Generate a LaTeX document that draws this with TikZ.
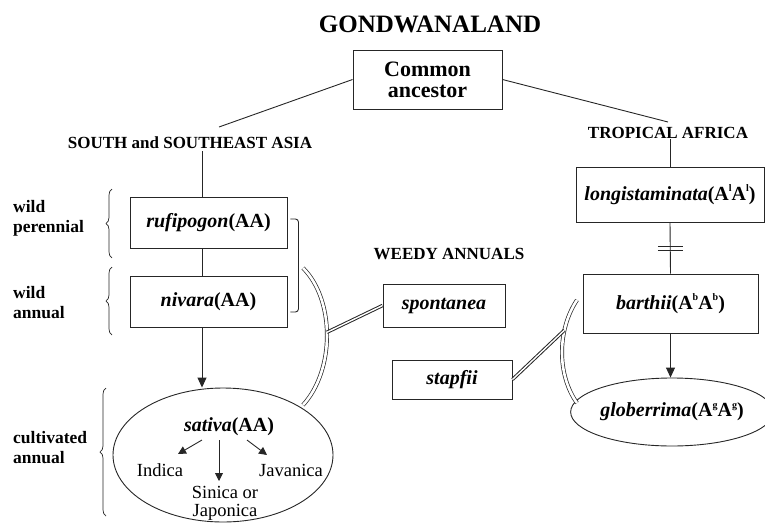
\documentclass[tikz,border=0pt]{standalone}
\usepackage{fontspec}
\setmainfont{Liberation Serif}
\usetikzlibrary{arrows.meta,shapes.geometric,decorations.pathreplacing,calc}
\newcommand{\supl}[1]{\raisebox{0.42em}{\fontsize{10}{10}\selectfont #1}}
\begin{document}
\begin{tikzpicture}[x=1pt,y=-1pt,
  ln/.style={draw=black!85,line width=0.9pt},
  box/.style={draw=black!85,line width=0.9pt,inner sep=0pt,font=\fontsize{20}{22}\selectfont\bfseries},
  head/.style={inner sep=0pt,font=\fontsize{17}{19}\selectfont\bfseries},
  lab/.style={inner sep=0pt,anchor=west,align=left,font=\fontsize{17.5}{20}\selectfont\bfseries},
  reg/.style={inner sep=0pt,align=center,font=\fontsize{18.5}{18}\selectfont},
  arr/.style={ln,-{Triangle[length=10pt,width=9pt]}},
  sarr/.style={ln,-{Triangle[length=8pt,width=8pt]}},
  bracestyle/.style={draw=black!85,line width=0.7pt,decorate,decoration={brace,amplitude=6pt}},
  dblthin/.style={draw=black!85,line width=0.7pt,double=white,double distance=2.6pt},
  dblthick/.style={draw=black!85,line width=1pt,double=white,double distance=1.4pt}
]
\useasboundingbox (0,0) rectangle (765,522);

% headings
\node[inner sep=0pt,font=\fontsize{25}{27}\selectfont\bfseries] (title) at (430,24) {GONDWANALAND};
\node[box,align=center,minimum width=149pt,minimum height=59pt,font=\fontsize{22}{21}\selectfont\bfseries] (ca) at (427.5,79.5) {Common\\ancestor};
\node[head] (sea) at (190,143) {SOUTH and SOUTHEAST ASIA};
\node[head] (ta) at (668,133) {TROPICAL AFRICA};
\node[head] (wa) at (449,254) {WEEDY ANNUALS};

\coordinate (sl) at (219,127);
\coordinate (sr) at (668,122);
\draw[ln] (ca.west) -- (sl);
\draw[ln] (ca.east) -- (sr);

% left column
\coordinate (sa) at (202,151);
\node[box,minimum width=157pt,minimum height=51pt] (rufi) at (208.5,222.5) {\textit{rufipogon}(AA)};
\node[box,minimum width=157pt,minimum height=51pt] (niv) at (208.5,301.5) {\textit{nivara}(AA)};
\node[draw=black!85,line width=0.9pt,ellipse,inner sep=0pt,minimum width=220pt,minimum height=134pt] (sat) at (223,455) {};
\draw[ln] (sa) -- (sa |- rufi.north);
\draw[ln] (sa |- rufi.south) -- (sa |- niv.north);
\draw[arr] (sa |- niv.south) -- (sa |- sat.north);
\draw[ln,rounded corners=3pt] ($(rufi.east)+(3,-3.5)$) -- ++(8,0) |- ($(niv.east)+(3,10.5)$);

\node[inner sep=0pt,font=\fontsize{20}{22}\selectfont\bfseries] (sattext) at (229,427) {\textit{sativa}(AA)};
\node[reg] (indica) at (160,470) {Indica};
\node[reg] (javanica) at (291,470) {Javanica};
\node[reg] (sinica) at (225,503) {Sinica or\\Japonica};
\coordinate (s1) at (202,440); \coordinate (e1) at (178,454);
\coordinate (s2) at (219,440); \coordinate (e2) at (219,481);
\coordinate (s3) at (247,440); \coordinate (e3) at (267,455);
\draw[sarr] (s1) -- (e1);
\draw[sarr] (s2) -- (e2);
\draw[sarr] (s3) -- (e3);

% left labels and braces
\node[lab] (wp) at (13,218) {wild\\perennial};
\node[lab] (wan) at (13,303) {wild\\annual};
\node[lab] (cul) at (13,448) {cultivated\\annual};
\draw[bracestyle] (112,258) -- (112,189);
\draw[bracestyle] (112,335) -- (112,267);
\draw[bracestyle] (106,516) -- (106,388);

% right column
\node[box,minimum width=188pt,minimum height=55pt] (longi) at (670,194.5) {\textit{longistaminata}(A\supl{l}A\supl{l})};
\node[box,minimum width=175pt,minimum height=59pt] (barthii) at (670.5,303.5) {\textit{barthii}(A\supl{b}A\supl{b})};
\node[draw=black!85,line width=0.9pt,ellipse,inner sep=0pt,minimum width=186pt,minimum height=68pt,font=\fontsize{20}{22}\selectfont\bfseries] (glob) at (672,412) {\textit{globerrima}(A\supl{g}A\supl{g})};
\draw[ln] (ta.south -| longi.north) -- (longi.north);
\draw[ln] (longi.south) -- (barthii.south |- barthii.north);
\coordinate (bm) at ($(longi.south)!0.5!(barthii.north)$);
\draw[ln] ($(bm)+(-12.5,-2)$) -- ++(25,0);
\draw[ln] ($(bm)+(-12.5,2)$) -- ++(25,0);
\draw[arr] (barthii.south) -- (barthii.south |- glob.north);

% weedy annuals
\node[box,minimum width=122pt,minimum height=43pt] (spont) at (444,305.5) {\textit{spontanea}};
\node[box,minimum width=120pt,minimum height=39pt] (stapf) at (452,379.5) {\textit{stapfii}};
\draw[dblthin] (303,268) .. controls (335,300) and (335,370) .. (303,405) coordinate[pos=0.48] (a1);
\draw[dblthin] (577,300) .. controls (557,330) and (557,375) .. (577,403) coordinate[pos=0.3] (a2);
\draw[dblthick] (a1) -- (spont.west);
\draw[dblthick] (stapf.east) -- (a2);
\end{tikzpicture}
\end{document}
